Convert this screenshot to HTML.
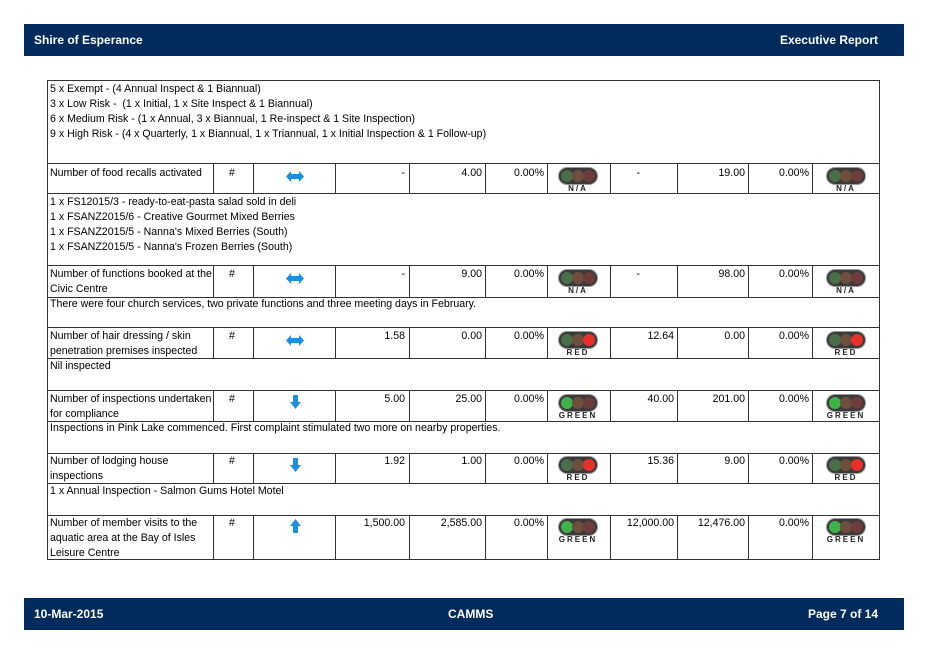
<!DOCTYPE html>
<html><head><meta charset="utf-8"><style>
body{margin:0;width:928px;height:657px;position:relative;background:#fff;font-family:"Liberation Sans",sans-serif;font-size:10.6px;color:#000;overflow:hidden}
.bar{position:absolute;left:24px;width:880px;height:32px;background:#002b5c;color:#fff;font-weight:bold;font-size:12px}
.bar span{position:absolute;top:9px}
.b{position:absolute;border:1px solid #333;box-sizing:border-box}
.t{position:absolute;line-height:15px;white-space:nowrap}
.r{text-align:right}
.tl{position:absolute;width:38px;height:16px;border-radius:8px;background:#3a3a3a;box-shadow:0 0 0 1px #999}
.tl i{position:absolute;top:2px;width:12px;height:12px;border-radius:6px}
.lb{position:absolute;font-size:8px;font-weight:bold;letter-spacing:2px;color:#222;width:50px;text-align:center}
</style></head><body>
<div class="bar" style="top:24px"><span style="left:10px">Shire of Esperance</span><span style="right:26px">Executive Report</span></div>
<div class="bar" style="top:598px"><span style="left:10px">10-Mar-2015</span><span style="left:424px">CAMMS</span><span style="right:26px">Page 7 of 14</span></div>

<div class="b" style="left:47px;top:80px;width:833px;height:84px"></div>
<div class="t" style="left:50px;top:82px">5 x Exempt - (4 Annual Inspect &amp; 1 Biannual)<br>3 x Low Risk -&nbsp; (1 x Initial, 1 x Site Inspect &amp; 1 Biannual)<br>6 x Medium Risk - (1 x Annual, 3 x Biannual, 1 Re-inspect &amp; 1 Site Inspection)<br>9 x High Risk - (4 x Quarterly, 1 x Biannual, 1 x Triannual, 1 x Initial Inspection &amp; 1 Follow-up)</div>
<div class="b" style="left:47px;top:193px;width:833px;height:73px"></div>
<div class="t" style="left:50px;top:195px">1 x FS12015/3 - ready-to-eat-pasta salad sold in deli<br>1 x FSANZ2015/6 - Creative Gourmet Mixed Berries<br>1 x FSANZ2015/5 - Nanna's Mixed Berries (South)<br>1 x FSANZ2015/5 - Nanna's Frozen Berries (South)</div>
<div class="b" style="left:47px;top:297px;width:833px;height:31px"></div>
<div class="t" style="left:50px;top:297px">There were four church services, two private functions and three meeting days in February.</div>
<div class="b" style="left:47px;top:358px;width:833px;height:33px"></div>
<div class="t" style="left:50px;top:359px">Nil inspected</div>
<div class="b" style="left:47px;top:421px;width:833px;height:33px"></div>
<div class="t" style="left:50px;top:421px">Inspections in Pink Lake commenced. First complaint stimulated two more on nearby properties.</div>
<div class="b" style="left:47px;top:483px;width:833px;height:33px"></div>
<div class="t" style="left:50px;top:484px">1 x Annual Inspection - Salmon Gums Hotel Motel</div>

<!-- row 1 -->
<div class="b" style="left:47px;top:163px;width:167px;height:31px"></div><div class="b" style="left:213px;top:163px;width:41px;height:31px"></div><div class="b" style="left:253px;top:163px;width:83px;height:31px"></div><div class="b" style="left:335px;top:163px;width:75px;height:31px"></div><div class="b" style="left:409px;top:163px;width:77px;height:31px"></div><div class="b" style="left:485px;top:163px;width:63px;height:31px"></div><div class="b" style="left:547px;top:163px;width:64px;height:31px"></div><div class="b" style="left:610px;top:163px;width:68px;height:31px"></div><div class="b" style="left:677px;top:163px;width:72px;height:31px"></div><div class="b" style="left:748px;top:163px;width:65px;height:31px"></div><div class="b" style="left:812px;top:163px;width:68px;height:31px"></div>
<div class="t" style="left:50px;top:166px">Number of food recalls activated</div>
<div class="t" style="left:229px;top:166px">#</div>
<svg style="position:absolute;left:286px;top:171px" width="18" height="11"><polygon points="0,5.5 5,0 5,3 13,3 13,0 18,5.5 13,11 13,8 5,8 5,11" fill="#1c8fe0"/></svg>
<div class="t r" style="left:335px;width:70px;top:166px">-</div>
<div class="t r" style="left:409px;width:73px;top:166px">4.00</div>
<div class="t r" style="left:485px;width:59px;top:166px">0.00%</div>
<div class="tl" style="left:559px;top:168px"><i style="left:2px;background:#4a6e4a"></i><i style="left:13px;background:#6e4e3c"></i><i style="left:24px;background:#6e3c3c"></i></div><div class="lb" style="left:553px;top:184px">N/A</div>
<div class="t r" style="left:610px;width:30px;top:166px">-</div>
<div class="t r" style="left:677px;width:68px;top:166px">19.00</div>
<div class="t r" style="left:748px;width:61px;top:166px">0.00%</div>
<div class="tl" style="left:827px;top:168px"><i style="left:2px;background:#4a6e4a"></i><i style="left:13px;background:#6e4e3c"></i><i style="left:24px;background:#6e3c3c"></i></div><div class="lb" style="left:821px;top:184px">N/A</div>

<!-- row 2 -->
<div class="b" style="left:47px;top:265px;width:167px;height:33px"></div><div class="b" style="left:213px;top:265px;width:41px;height:33px"></div><div class="b" style="left:253px;top:265px;width:83px;height:33px"></div><div class="b" style="left:335px;top:265px;width:75px;height:33px"></div><div class="b" style="left:409px;top:265px;width:77px;height:33px"></div><div class="b" style="left:485px;top:265px;width:63px;height:33px"></div><div class="b" style="left:547px;top:265px;width:64px;height:33px"></div><div class="b" style="left:610px;top:265px;width:68px;height:33px"></div><div class="b" style="left:677px;top:265px;width:72px;height:33px"></div><div class="b" style="left:748px;top:265px;width:65px;height:33px"></div><div class="b" style="left:812px;top:265px;width:68px;height:33px"></div>
<div class="t" style="left:50px;top:267px">Number of functions booked at the<br>Civic Centre</div>
<div class="t" style="left:229px;top:267px">#</div>
<svg style="position:absolute;left:286px;top:273px" width="18" height="11"><polygon points="0,5.5 5,0 5,3 13,3 13,0 18,5.5 13,11 13,8 5,8 5,11" fill="#1c8fe0"/></svg>
<div class="t r" style="left:335px;width:70px;top:267px">-</div>
<div class="t r" style="left:409px;width:73px;top:267px">9.00</div>
<div class="t r" style="left:485px;width:59px;top:267px">0.00%</div>
<div class="tl" style="left:559px;top:270px"><i style="left:2px;background:#4a6e4a"></i><i style="left:13px;background:#6e4e3c"></i><i style="left:24px;background:#6e3c3c"></i></div><div class="lb" style="left:553px;top:286px">N/A</div>
<div class="t r" style="left:610px;width:30px;top:267px">-</div>
<div class="t r" style="left:677px;width:68px;top:267px">98.00</div>
<div class="t r" style="left:748px;width:61px;top:267px">0.00%</div>
<div class="tl" style="left:827px;top:270px"><i style="left:2px;background:#4a6e4a"></i><i style="left:13px;background:#6e4e3c"></i><i style="left:24px;background:#6e3c3c"></i></div><div class="lb" style="left:821px;top:286px">N/A</div>

<!-- row 3 -->
<div class="b" style="left:47px;top:327px;width:167px;height:32px"></div><div class="b" style="left:213px;top:327px;width:41px;height:32px"></div><div class="b" style="left:253px;top:327px;width:83px;height:32px"></div><div class="b" style="left:335px;top:327px;width:75px;height:32px"></div><div class="b" style="left:409px;top:327px;width:77px;height:32px"></div><div class="b" style="left:485px;top:327px;width:63px;height:32px"></div><div class="b" style="left:547px;top:327px;width:64px;height:32px"></div><div class="b" style="left:610px;top:327px;width:68px;height:32px"></div><div class="b" style="left:677px;top:327px;width:72px;height:32px"></div><div class="b" style="left:748px;top:327px;width:65px;height:32px"></div><div class="b" style="left:812px;top:327px;width:68px;height:32px"></div>
<div class="t" style="left:50px;top:329px">Number of hair dressing / skin<br>penetration premises inspected</div>
<div class="t" style="left:229px;top:329px">#</div>
<svg style="position:absolute;left:286px;top:335px" width="18" height="11"><polygon points="0,5.5 5,0 5,3 13,3 13,0 18,5.5 13,11 13,8 5,8 5,11" fill="#1c8fe0"/></svg>
<div class="t r" style="left:335px;width:70px;top:329px">1.58</div>
<div class="t r" style="left:409px;width:73px;top:329px">0.00</div>
<div class="t r" style="left:485px;width:59px;top:329px">0.00%</div>
<div class="tl" style="left:559px;top:332px"><i style="left:2px;background:#4a6e4a"></i><i style="left:13px;background:#6e4e3c"></i><i style="left:24px;background:#e8302a"></i></div><div class="lb" style="left:553px;top:348px">RED</div>
<div class="t r" style="left:610px;width:64px;top:329px">12.64</div>
<div class="t r" style="left:677px;width:68px;top:329px">0.00</div>
<div class="t r" style="left:748px;width:61px;top:329px">0.00%</div>
<div class="tl" style="left:827px;top:332px"><i style="left:2px;background:#4a6e4a"></i><i style="left:13px;background:#6e4e3c"></i><i style="left:24px;background:#e8302a"></i></div><div class="lb" style="left:821px;top:348px">RED</div>

<!-- row 4 -->
<div class="b" style="left:47px;top:390px;width:167px;height:32px"></div><div class="b" style="left:213px;top:390px;width:41px;height:32px"></div><div class="b" style="left:253px;top:390px;width:83px;height:32px"></div><div class="b" style="left:335px;top:390px;width:75px;height:32px"></div><div class="b" style="left:409px;top:390px;width:77px;height:32px"></div><div class="b" style="left:485px;top:390px;width:63px;height:32px"></div><div class="b" style="left:547px;top:390px;width:64px;height:32px"></div><div class="b" style="left:610px;top:390px;width:68px;height:32px"></div><div class="b" style="left:677px;top:390px;width:72px;height:32px"></div><div class="b" style="left:748px;top:390px;width:65px;height:32px"></div><div class="b" style="left:812px;top:390px;width:68px;height:32px"></div>
<div class="t" style="left:50px;top:392px">Number of inspections undertaken<br>for compliance</div>
<div class="t" style="left:229px;top:392px">#</div>
<svg style="position:absolute;left:290px;top:395px" width="11" height="14"><polygon points="3,0 8,0 8,7 11,7 5.5,14 0,7 3,7" fill="#1c8fe0"/></svg>
<div class="t r" style="left:335px;width:70px;top:392px">5.00</div>
<div class="t r" style="left:409px;width:73px;top:392px">25.00</div>
<div class="t r" style="left:485px;width:59px;top:392px">0.00%</div>
<div class="tl" style="left:559px;top:395px"><i style="left:2px;background:#3fb24a"></i><i style="left:13px;background:#6e4e3c"></i><i style="left:24px;background:#6e3c3c"></i></div><div class="lb" style="left:553px;top:411px">GREEN</div>
<div class="t r" style="left:610px;width:64px;top:392px">40.00</div>
<div class="t r" style="left:677px;width:68px;top:392px">201.00</div>
<div class="t r" style="left:748px;width:61px;top:392px">0.00%</div>
<div class="tl" style="left:827px;top:395px"><i style="left:2px;background:#3fb24a"></i><i style="left:13px;background:#6e4e3c"></i><i style="left:24px;background:#6e3c3c"></i></div><div class="lb" style="left:821px;top:411px">GREEN</div>

<!-- row 5 -->
<div class="b" style="left:47px;top:453px;width:167px;height:31px"></div><div class="b" style="left:213px;top:453px;width:41px;height:31px"></div><div class="b" style="left:253px;top:453px;width:83px;height:31px"></div><div class="b" style="left:335px;top:453px;width:75px;height:31px"></div><div class="b" style="left:409px;top:453px;width:77px;height:31px"></div><div class="b" style="left:485px;top:453px;width:63px;height:31px"></div><div class="b" style="left:547px;top:453px;width:64px;height:31px"></div><div class="b" style="left:610px;top:453px;width:68px;height:31px"></div><div class="b" style="left:677px;top:453px;width:72px;height:31px"></div><div class="b" style="left:748px;top:453px;width:65px;height:31px"></div><div class="b" style="left:812px;top:453px;width:68px;height:31px"></div>
<div class="t" style="left:50px;top:454px">Number of lodging house<br>inspections</div>
<div class="t" style="left:229px;top:454px">#</div>
<svg style="position:absolute;left:290px;top:458px" width="11" height="14"><polygon points="3,0 8,0 8,7 11,7 5.5,14 0,7 3,7" fill="#1c8fe0"/></svg>
<div class="t r" style="left:335px;width:70px;top:454px">1.92</div>
<div class="t r" style="left:409px;width:73px;top:454px">1.00</div>
<div class="t r" style="left:485px;width:59px;top:454px">0.00%</div>
<div class="tl" style="left:559px;top:457px"><i style="left:2px;background:#4a6e4a"></i><i style="left:13px;background:#6e4e3c"></i><i style="left:24px;background:#e8302a"></i></div><div class="lb" style="left:553px;top:473px">RED</div>
<div class="t r" style="left:610px;width:64px;top:454px">15.36</div>
<div class="t r" style="left:677px;width:68px;top:454px">9.00</div>
<div class="t r" style="left:748px;width:61px;top:454px">0.00%</div>
<div class="tl" style="left:827px;top:457px"><i style="left:2px;background:#4a6e4a"></i><i style="left:13px;background:#6e4e3c"></i><i style="left:24px;background:#e8302a"></i></div><div class="lb" style="left:821px;top:473px">RED</div>

<!-- row 6 -->
<div class="b" style="left:47px;top:515px;width:167px;height:45px"></div><div class="b" style="left:213px;top:515px;width:41px;height:45px"></div><div class="b" style="left:253px;top:515px;width:83px;height:45px"></div><div class="b" style="left:335px;top:515px;width:75px;height:45px"></div><div class="b" style="left:409px;top:515px;width:77px;height:45px"></div><div class="b" style="left:485px;top:515px;width:63px;height:45px"></div><div class="b" style="left:547px;top:515px;width:64px;height:45px"></div><div class="b" style="left:610px;top:515px;width:68px;height:45px"></div><div class="b" style="left:677px;top:515px;width:72px;height:45px"></div><div class="b" style="left:748px;top:515px;width:65px;height:45px"></div><div class="b" style="left:812px;top:515px;width:68px;height:45px"></div>
<div class="t" style="left:50px;top:516px">Number of member visits to the<br>aquatic area at the Bay of Isles<br>Leisure Centre</div>
<div class="t" style="left:229px;top:516px">#</div>
<svg style="position:absolute;left:290px;top:519px" width="11" height="14"><polygon points="5.5,0 11,7 8,7 8,14 3,14 3,7 0,7" fill="#1c8fe0"/></svg>
<div class="t r" style="left:335px;width:70px;top:516px">1,500.00</div>
<div class="t r" style="left:409px;width:73px;top:516px">2,585.00</div>
<div class="t r" style="left:485px;width:59px;top:516px">0.00%</div>
<div class="tl" style="left:559px;top:519px"><i style="left:2px;background:#3fb24a"></i><i style="left:13px;background:#6e4e3c"></i><i style="left:24px;background:#6e3c3c"></i></div><div class="lb" style="left:553px;top:535px">GREEN</div>
<div class="t r" style="left:610px;width:64px;top:516px">12,000.00</div>
<div class="t r" style="left:677px;width:68px;top:516px">12,476.00</div>
<div class="t r" style="left:748px;width:61px;top:516px">0.00%</div>
<div class="tl" style="left:827px;top:519px"><i style="left:2px;background:#3fb24a"></i><i style="left:13px;background:#6e4e3c"></i><i style="left:24px;background:#6e3c3c"></i></div><div class="lb" style="left:821px;top:535px">GREEN</div>
</body></html>
